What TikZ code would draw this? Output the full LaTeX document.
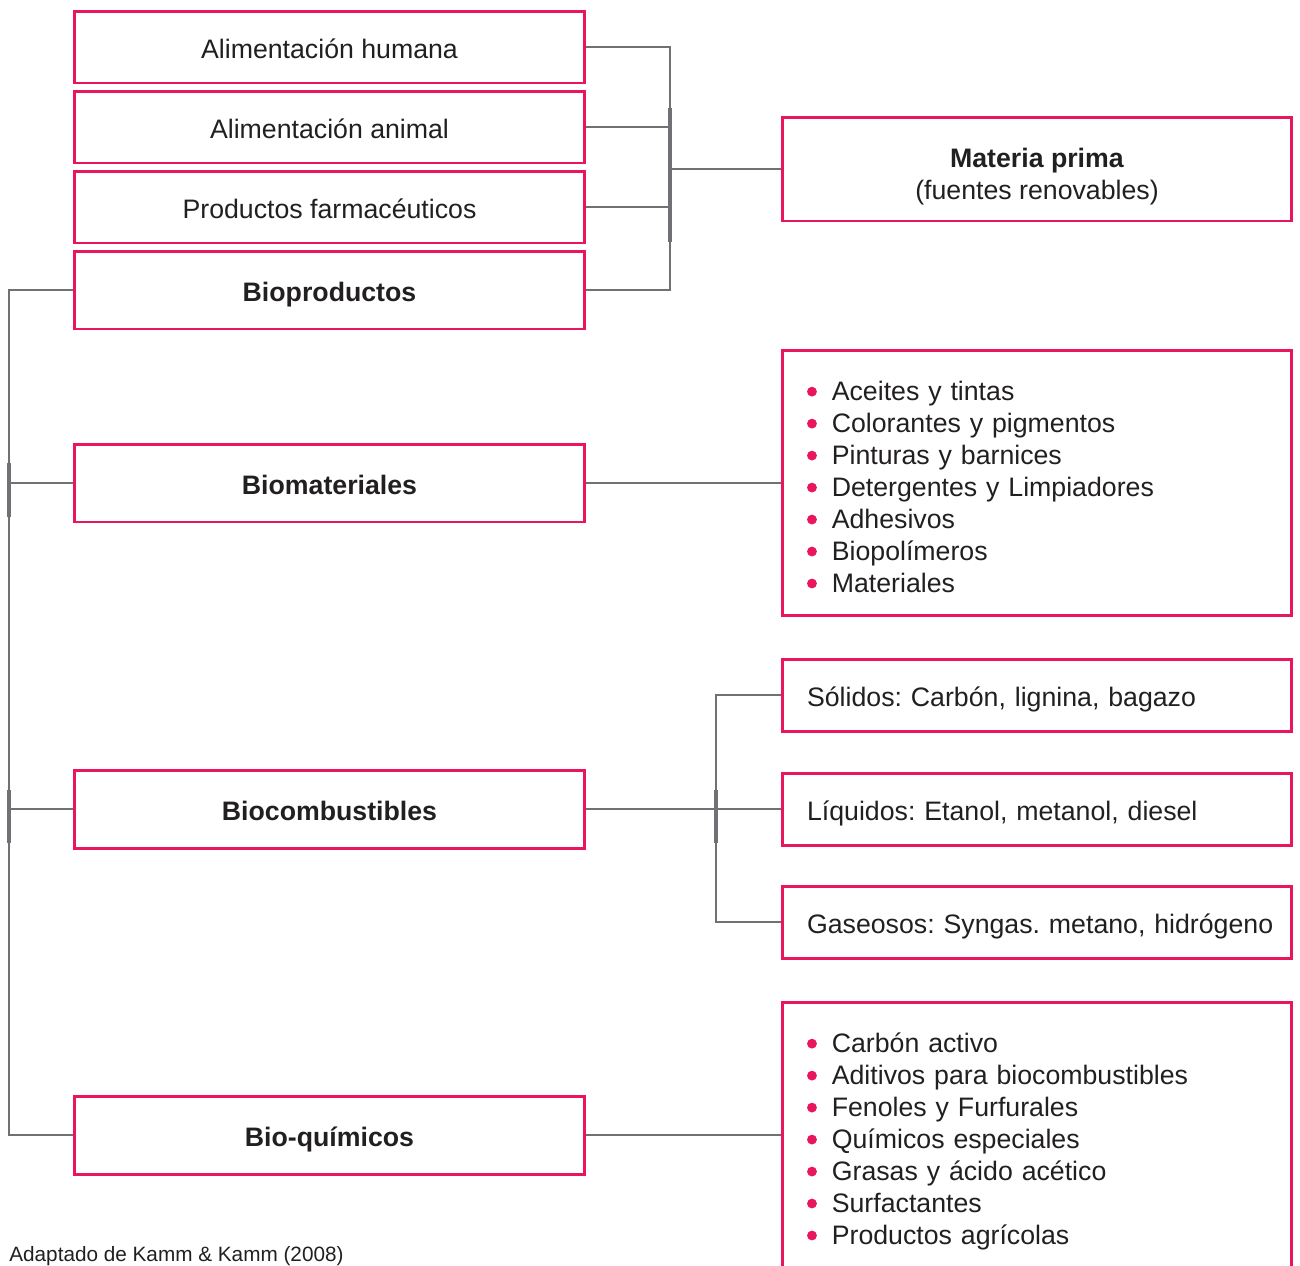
\documentclass[tikz,border=0pt]{standalone}
\usepackage{fontspec}
\setmainfont{Liberation Sans}
\usetikzlibrary{calc}
\definecolor{rosa}{RGB}{234,22,92}
\definecolor{gris}{RGB}{112,112,117}
\definecolor{texto}{RGB}{34,31,32}
\newcommand{\itm}[1]{\raisebox{2.3pt}{\tikz\fill[rosa] (0,0) circle (2.8pt);}\hspace{8.5pt}#1}
\frenchspacing

\begin{document}
\begin{tikzpicture}[x=0.02cm,y=-0.02cm,font=\fontsize{15.2}{18.2}\selectfont,text=texto]
\tikzstyle{b}=[draw=rosa,line width=1.7pt,minimum width=10.2cm,minimum height=1.44cm,align=center,inner sep=0pt,text height=13.5pt,text depth=0pt]
\tikzstyle{r}=[b,text width=9.2cm,inner xsep=0.5cm,align=left]
\tikzstyle{lst}=[r,minimum height=5.3cm,text height=10pt,text depth=103.8pt]
\tikzstyle{ln}=[draw=gris,line width=1.3pt]
\tikzstyle{thk}=[draw=gris,line width=2.4pt]
\useasboundingbox (0,0) rectangle (1300,1265);
% left column
\node[b] (hum) at (329.5,47) {Alimentación humana};
\node[b] (anim) at (329.5,127) {Alimentación animal};
\node[b] (farm) at (329.5,207) {Productos farmacéuticos};
\node[b,minimum height=1.56cm] (bprod) at (329.5,290) {\textbf{Bioproductos}};
\node[b,minimum height=1.56cm] (bmat) at (329.5,483) {\textbf{Biomateriales}};
\node[b,minimum height=1.56cm] (bcomb) at (329.5,809) {\textbf{Biocombustibles}};
\node[b,minimum height=1.56cm] (bquim) at (329.5,1135) {\textbf{Bio-químicos}};
% right column
\node[b,minimum height=2.08cm,text height=34.6pt] (mat) at (1037,169) {\textbf{Materia prima}\\(fuentes renovables)};
\node[lst] (lmat) at (1037,483) {\itm{Aceites y tintas}\\ \itm{Colorantes y pigmentos}\\ \itm{Pinturas y barnices}\\ \itm{Detergentes y Limpiadores}\\ \itm{Adhesivos}\\ \itm{Biopolímeros}\\ \itm{Materiales}};
\node[r] (sol) at (1037,695) {Sólidos: Carbón, lignina, bagazo};
\node[r] (liq) at (1037,809) {Líquidos: Etanol, metanol, diesel};
\node[r] (gas) at (1037,922) {\mbox{Gaseosos: Syngas. metano, hidrógeno}};
\node[lst] (lquim) at (1037,1135) {\itm{Carbón activo}\\ \itm{Aditivos para biocombustibles}\\ \itm{Fenoles y Furfurales}\\ \itm{Químicos especiales}\\ \itm{Grasas y ácido acético}\\ \itm{Surfactantes}\\ \itm{Productos agrícolas}};
\node[anchor=base west,inner sep=0pt,font=\fontsize{11.8}{14}\selectfont] (src) at (9,1261) {Adaptado de Kamm \& Kamm (2008)};
% connectors
\coordinate (j1) at (670,169);
\coordinate (j2) at (9,700);
\coordinate (j3) at (716,809);
\draw[ln] (hum.east) -| (j1) |- (bprod.east);
\draw[ln] (anim.east) -- (anim.east -| j1);
\draw[ln] (farm.east) -- (farm.east -| j1);
\draw[ln] (j1) -- (mat.west);
\draw[thk] ($(j1)+(0,-61)$) -- ($(j1)+(0,73)$);
\draw[ln] (bprod.west) -| (j2) |- (bquim.west);
\draw[ln] (bmat.west) -- (bmat.west -| j2);
\draw[ln] (bcomb.west) -- (bcomb.west -| j2);
\draw[thk] ($(bmat.west -| j2)+(0,-20)$) -- ($(bmat.west -| j2)+(0,34)$);
\draw[thk] ($(bcomb.west -| j2)+(0,-19)$) -- ($(bcomb.west -| j2)+(0,34)$);
\draw[ln] (bmat.east) -- (lmat.west);
\draw[ln] (bcomb.east) -- (liq.west);
\draw[ln] (sol.west) -| (j3) |- (gas.west);
\draw[thk] ($(j3)+(0,-19)$) -- ($(j3)+(0,34)$);
\draw[ln] (bquim.east) -- (lquim.west);
\end{tikzpicture}
\end{document}
